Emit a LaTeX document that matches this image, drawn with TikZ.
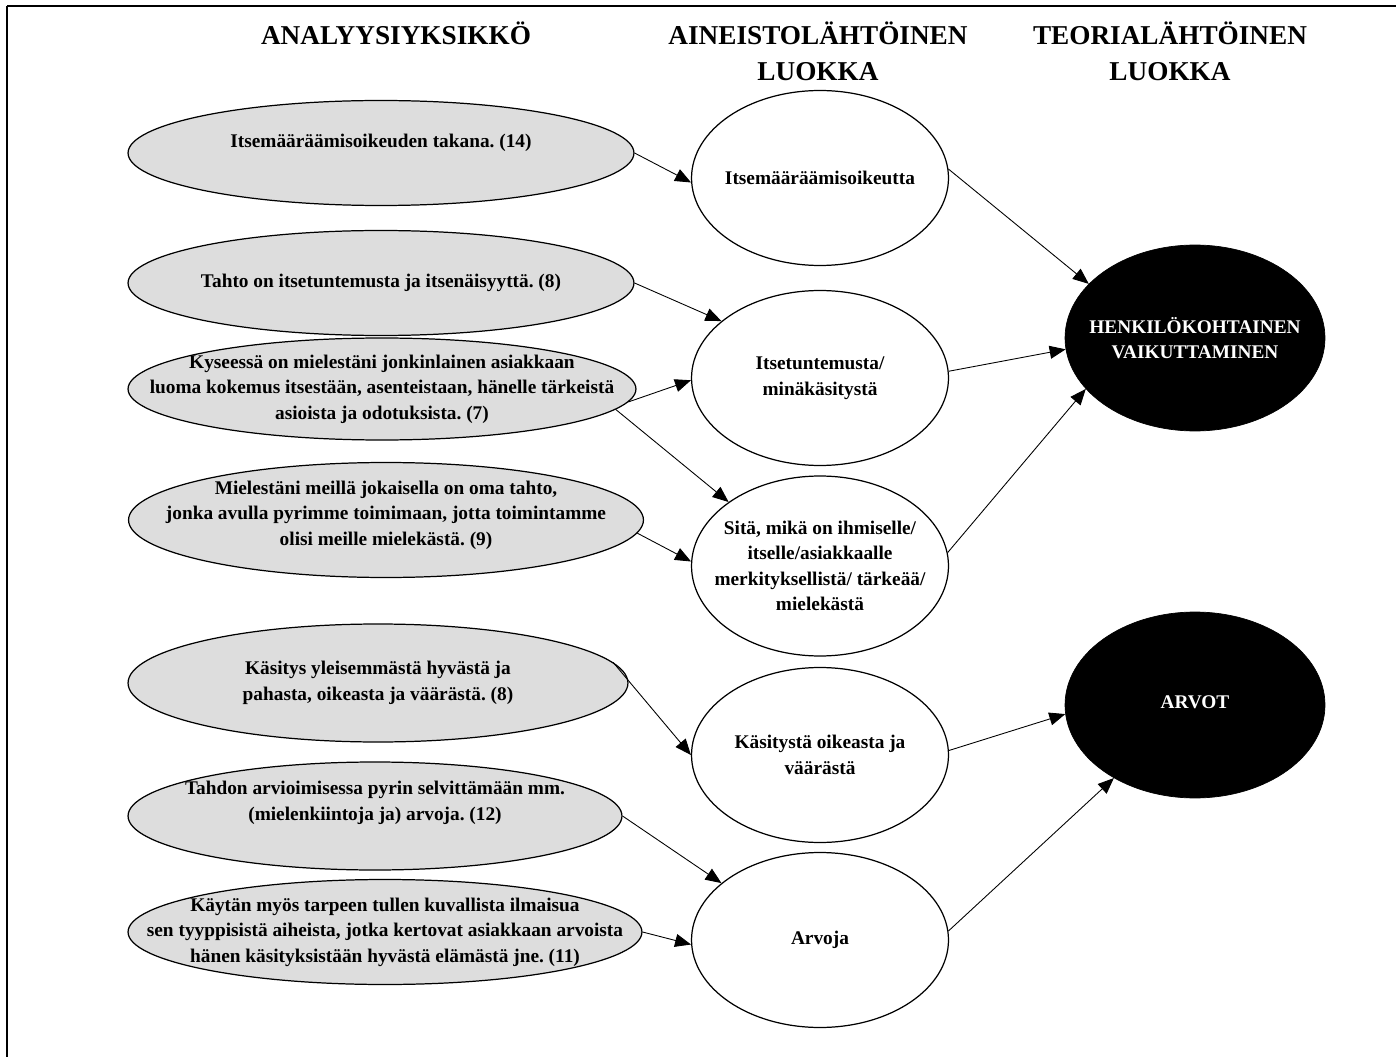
\documentclass[tikz,border=0pt]{standalone}
\usepackage{fontspec}
\setmainfont{Liberation Serif}
\usetikzlibrary{shapes.geometric,arrows.meta}
\definecolor{ellgray}{RGB}{221,221,221}
\frenchspacing

\begin{document}
\begin{tikzpicture}[x=0.02cm,y=-0.02cm,
    head/.style={font=\fontsize{15.5}{20.5}\selectfont\bfseries, align=center, inner sep=0pt},
    txt/.style={font=\fontsize{11}{14.5}\selectfont\bfseries, align=center, inner sep=0pt},
    unit/.style={ellipse, draw, fill=ellgray, line width=0.7pt, inner sep=0pt},
    cat/.style={ellipse, draw, fill=white, line width=0.7pt, inner sep=0pt},
    theory/.style={ellipse, draw, fill=black, inner sep=0pt},
    arr/.style={-{Triangle[length=3.2mm,width=2.6mm]}, line width=0.5pt}]
	\useasboundingbox (0,0) rectangle (1396,1057);
	
	% frame
	\draw[line width=0.6pt] (7,1057) -- (7,6);
	\draw[line width=1.2pt] (7,6) -- (1396,6);
	
	% headers
	\node[head] (h1) at (396,33) {ANALYYSIYKSIKKÖ};
	\node[head] (h2) at (818,51) {AINEISTOLÄHTÖINEN\\LUOKKA};
	\node[head] (h3) at (1170,51) {TEORIALÄHTÖINEN\\LUOKKA};
	
	% analyysiyksiköt
	\node[unit, minimum width=10.12cm, minimum height=2.1cm] (e1) at (381,153) {};
	\node[txt] (e1t) at (381,143) {Itsemääräämisoikeuden takana. (14)};
	\node[unit, minimum width=10.12cm, minimum height=2.1cm] (e2) at (381,283) {};
	\node[txt] (e2t) at (e2) {Tahto on itsetuntemusta ja itsenäisyyttä. (8)};
	\node[unit, minimum width=10.16cm, minimum height=2.04cm] (e3) at (382,389) {};
	\node[txt] (e3t) at (e3) {Kyseessä on mielestäni jonkinlainen asiakkaan\\luoma kokemus itsestään, asenteistaan, hänelle tärkeistä\\asioista ja odotuksista. (7)};
	\node[unit, minimum width=10.3cm, minimum height=2.3cm] (e4) at (386,520) {};
	\node[txt] (e4t) at (386,515) {Mielestäni meillä jokaisella on oma tahto,\\jonka avulla pyrimme toimimaan, jotta toimintamme\\olisi meille mielekästä. (9)};
	\node[unit, minimum width=10cm, minimum height=2.36cm] (e5) at (378,683) {};
	\node[txt] (e5t) at (e5) {Käsitys yleisemmästä hyvästä ja\\pahasta, oikeasta ja väärästä. (8)};
	\node[unit, minimum width=9.88cm, minimum height=2.16cm] (e6) at (375,816) {};
	\node[txt] (e6t) at (375,803) {Tahdon arvioimisessa pyrin selvittämään mm.\\(mielenkiintoja ja) arvoja. (12)};
	\node[unit, minimum width=10.28cm, minimum height=2.1cm] (e7) at (385,932) {};
	\node[txt] (e7t) at (e7) {Käytän myös tarpeen tullen kuvallista ilmaisua\\sen tyyppisistä aiheista, jotka kertovat asiakkaan arvoista\\hänen käsityksistään hyvästä elämästä jne. (11)};
	
	% aineistolähtöiset luokat
	\node[cat, minimum width=5.14cm, minimum height=3.5cm] (w1) at (820,178) {};
	\node[txt] (w1t) at (w1) {Itsemääräämisoikeutta};
	\node[cat, minimum width=5.14cm, minimum height=3.5cm] (w2) at (820,378) {};
	\node[txt] (w2t) at (w2) {Itsetuntemusta/\\minäkäsitystä};
	\node[cat, minimum width=5.14cm, minimum height=3.6cm] (w3) at (820,566) {};
	\node[txt] (w3t) at (w3) {Sitä, mikä on ihmiselle/\\itselle/asiakkaalle\\merkityksellistä/ tärkeää/\\mielekästä};
	\node[cat, minimum width=5.14cm, minimum height=3.5cm] (w4) at (820,755) {};
	\node[txt] (w4t) at (w4) {Käsitystä oikeasta ja\\väärästä};
	\node[cat, minimum width=5.14cm, minimum height=3.5cm] (w5) at (820,940) {};
	\node[txt] (w5t) at (w5) {Arvoja};
	
	% teorialähtöiset luokat
	\node[theory, minimum width=5.2cm, minimum height=3.72cm] (b1) at (1195,338) {};
	\node[txt, text=white] (b1t) at (b1) {HENKILÖKOHTAINEN\\VAIKUTTAMINEN};
	\node[theory, minimum width=5.2cm, minimum height=3.72cm] (b2) at (1195,705) {};
	\node[txt, text=white] (b2t) at (1195,702) {ARVOT};
	
	% nuolet
	\draw[arr] (e1.east) -- (w1.182);
	\draw[arr] (e2.east) -- (w2.150);
	\draw[arr] (e3.-3) -- (w2.181);
	\draw[arr] (e3.-5) -- (w3.145);
	\draw[arr] (e4.-3) -- (w3.178);
	\draw[arr] (e5.5) -- (w4.west);
	\draw[arr] (e6.east) -- (w5.150);
	\draw[arr] (e7.east) -- (w5.182);
	
	\draw[arr] (w1.4) -- (b1.153);
	\draw[arr] (w2.3) -- (b1.185);
	\draw[arr] (w3.6) -- (b1.205);
	\draw[arr] (w4.2) -- (b2.184);
	\draw[arr] (w5.4) -- (b2.222);
\end{tikzpicture}
\end{document}
